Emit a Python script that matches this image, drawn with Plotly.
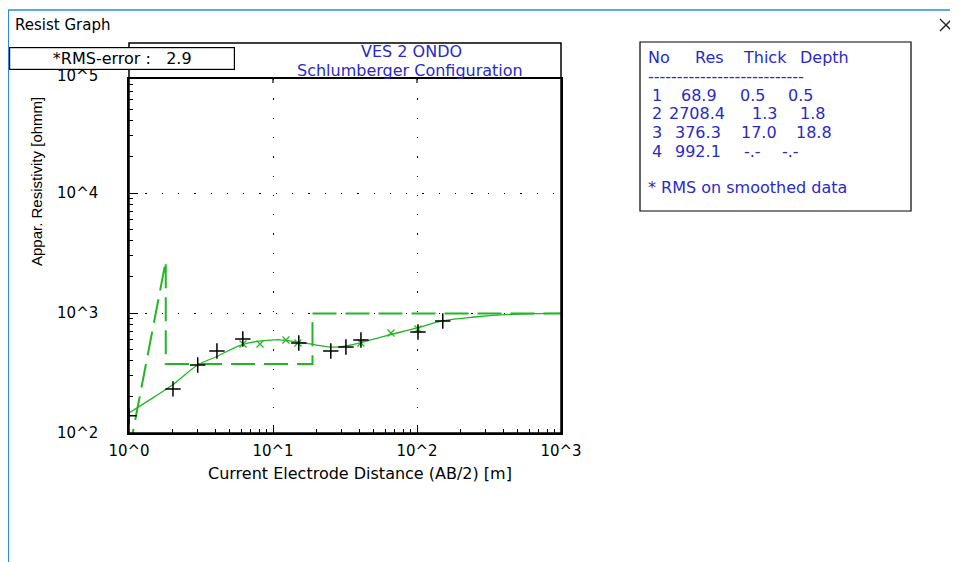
import plotly.graph_objects as go

# ---------------- data ----------------
layer_no = [1, 2, 3, 4]
layer_res = [68.9, 2708.4, 376.3, 992.1]
layer_thick = ["0.5", "1.3", "17.0", "-.-"]
layer_depth = ["0.5", "1.8", "18.8", "-.-"]
depths = [0.5, 1.8, 18.8]

obs_x = [1.0, 2.02, 3.0, 4.08, 6.17, 15.1, 25.2, 32.1, 40.8, 101.6, 151]
obs_y = [139, 233, 369, 482, 607, 562, 482, 521, 596, 695, 858]

smooth_x = [6.19, 8.12, 12.3, 14.9, 40.8, 66, 101.6]
smooth_y = [552, 552, 596, 562, 562, 681, 736]

calc_x = [1, 1.5, 2, 3, 4, 6, 8, 10, 11.2, 15, 20, 25, 30, 40, 60, 100, 150, 250, 500, 1000]
calc_y = [147, 200, 251, 369, 430, 541, 584, 596, 598, 573, 541, 521, 524, 562, 643, 750, 858, 926, 980, 992]

x_tick_vals = [1, 10, 100, 1000]
x_tick_text = ["10^0", "10^1", "10^2", "10^3"]
y_tick_vals = [100, 1000, 10000]
y_tick_text = ["10^2", "10^3", "10^4"]
y_top_label = "10^5"

X_MIN, X_MAX = 1, 1000

# model step line built from layer data
model_x = [X_MIN, depths[1], depths[1], depths[2], depths[2], X_MAX]
model_y = [layer_res[0], layer_res[1], layer_res[2], layer_res[2], layer_res[3], layer_res[3]]

GREEN = "#24b524"
BLUE = "#2a2ac8"
FONT = "DejaVu Sans, sans-serif"
FONT_V = "Liberation Sans, Arial, sans-serif"

OFF = 8                      # page body margin
W, H = 958 - OFF, 562 - OFF
L, R, T, B = 129, 561, 79, 433   # plot area in reference pixels


def px_x(p):
    return (p - L) / (R - L)


def px_y(p):
    return (B - p) / (B - T)


fig = go.Figure()
fig.add_trace(go.Scatter(x=model_x, y=model_y, mode="lines",
                         line=dict(color=GREEN, width=2, dash="24px,9px"),
                         hoverinfo="skip"))
fig.add_trace(go.Scatter(x=calc_x, y=calc_y, mode="lines",
                         line=dict(color=GREEN, width=1.3, shape="spline"),
                         hoverinfo="skip"))
fig.add_trace(go.Scatter(x=smooth_x, y=smooth_y, mode="markers",
                         marker=dict(symbol="x-thin", size=7,
                                     line=dict(color=GREEN, width=1.3))))
fig.add_trace(go.Scatter(x=obs_x, y=obs_y, mode="markers",
                         marker=dict(symbol="cross-thin", size=11,
                                     line=dict(color="black", width=1.5))))

minor_x = [m * 10 ** k for k in range(0, 3) for m in range(2, 10)]
minor_y = [m * 10 ** k for k in range(2, 5) for m in range(2, 10)]

fig.update_xaxes(type="log", range=[0, 3], tickmode="array",
                 tickvals=x_tick_vals, ticktext=x_tick_text,
                 ticks="inside", ticklen=8, tickwidth=1.2, tickcolor="black",
                 minor=dict(tickmode="array", tickvals=minor_x, ticks="inside",
                            ticklen=4, tickcolor="black", showgrid=False),
                 showline=True, mirror=True, linecolor="black", linewidth=1.5,
                 showgrid=True, gridcolor="black", gridwidth=1.3, griddash="1.3px,18px",
                 zeroline=False, ticklabelstandoff=3,
                 tickfont=dict(family=FONT, size=15, color="black"))
fig.update_yaxes(type="log", range=[2, 2 + (B - T) / 120], tickmode="array",
                 tickvals=y_tick_vals, ticktext=y_tick_text,
                 ticks="inside", ticklen=9, tickwidth=1.2, tickcolor="black",
                 minor=dict(tickmode="array", tickvals=minor_y, ticks="inside",
                            ticklen=4, tickcolor="black", showgrid=False),
                 showline=True, mirror=True, linecolor="black", linewidth=1.5,
                 showgrid=True, gridcolor="black", gridwidth=1.3, griddash="1.3px,15px",
                 zeroline=False, ticklabelstandoff=26,
                 tickfont=dict(family=FONT, size=15, color="black"))

shapes = []
# window chrome
shapes.append(dict(type="line", xref="paper", yref="paper",
                   x0=px_x(8), x1=px_x(970), y0=px_y(10), y1=px_y(10),
                   line=dict(color="#2a8ae0", width=1.5)))
shapes.append(dict(type="line", xref="paper", yref="paper",
                   x0=px_x(8), x1=px_x(8), y0=px_y(10), y1=px_y(580),
                   line=dict(color="#2a8ae0", width=2)))
# close button glyph
for a, b in (((940, 19), (952, 31)), ((940, 31), (952, 19))):
    shapes.append(dict(type="line", xref="paper", yref="paper",
                       x0=px_x(a[0]), y0=px_y(a[1]), x1=px_x(b[0]), y1=px_y(b[1]),
                       line=dict(color="#222222", width=1.3)))
# plot frame incl. title band
shapes.append(dict(type="rect", xref="paper", yref="paper",
                   x0=0, x1=1, y0=0, y1=px_y(43),
                   line=dict(color="black", width=1.5)))
# top ticks at major x positions
for v in x_tick_vals[1:-1]:
    shapes.append(dict(type="line", xref="x", yref="paper", x0=v, x1=v,
                       y0=1, y1=px_y(T + 4), line=dict(color="black", width=1.2)))
# table box
shapes.append(dict(type="rect", xref="paper", yref="paper",
                   x0=px_x(640), x1=px_x(911), y0=px_y(211), y1=px_y(42),
                   fillcolor="white", line=dict(color="black", width=1.2)))

ann = []


def txt(text, x, y, anchor="left", color="black", size=16, angle=0, family=FONT, **kw):
    d = dict(text=text, xref="paper", yref="paper", x=px_x(x), y=px_y(y),
             xanchor=anchor, yanchor="middle", showarrow=False,
             textangle=angle,
             font=dict(family=family, size=size, color=color))
    d.update(kw)
    ann.append(d)


txt("Resist Graph", 13, 25, size=15)
# top decade label, partly hidden by the RMS box drawn after it
txt(y_top_label, 100, 76, anchor="right", size=15)
txt("*RMS-error :\u00a0\u00a0\u00a02.9", 122, 58.5, anchor="center", size=16,
    bgcolor="white", bordercolor="black", borderwidth=1.2,
    width=222, height=19, borderpad=1)
txt("VES 2 ONDO", 411, 52, anchor="center", color=BLUE)
txt("Schlumberger Configuration", 410, 71, anchor="center", color=BLUE)
txt("Appar. Resistivity [ohmm]", 36, 182, anchor="center", angle=-90, size=15, family=FONT_V)
txt("Current Electrode Distance (AB/2) [m]", 360, 473, anchor="center")

# table
header = ["No", "Res", "Thick", "Depth"]
header_x = [646, 693, 741, 798]
for h, xx in zip(header, header_x):
    txt(h, xx, 57, color=BLUE)
txt("-" * 27, 646, 76, color=BLUE)
row_y = [95, 113, 132, 151]
col_x = [[650, 679, 738, 786],
         [650, 667, 750, 798],
         [650, 673, 739, 794],
         [650, 673, 742, 780]]
for i in range(4):
    cells = [str(layer_no[i]), f"{layer_res[i]:.1f}", layer_thick[i], layer_depth[i]]
    for c, xx in zip(cells, col_x[i]):
        txt(c, xx, row_y[i], color=BLUE)
txt("* RMS on smoothed data", 646, 187, color=BLUE)

fig.update_layout(width=W, height=H, autosize=False,
                  margin=dict(l=L - OFF, r=W - (R - OFF), t=T - OFF, b=H - (B - OFF), pad=0),
                  paper_bgcolor="white", plot_bgcolor="white",
                  showlegend=False, shapes=shapes, annotations=ann)

fig.write_html("out.html")
